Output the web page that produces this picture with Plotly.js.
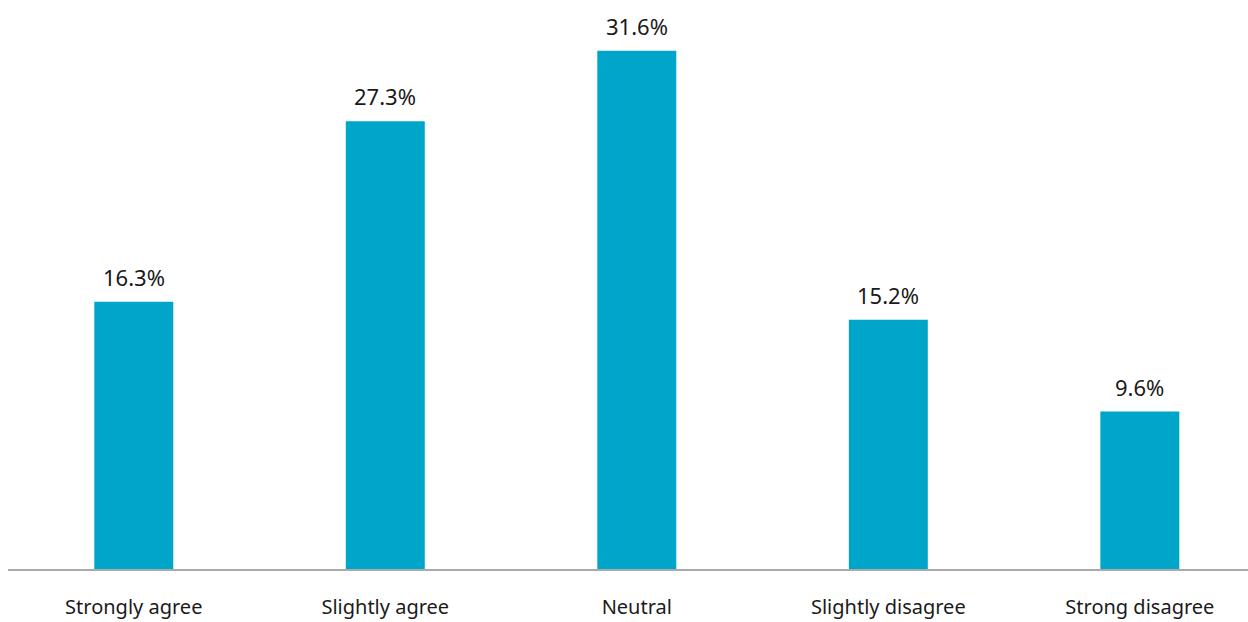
<!DOCTYPE html>
<html>
<head>
<meta charset="utf-8">
<script src="https://cdn.plot.ly/plotly-3.0.1.min.js"></script>
<style>
  html, body { margin: 0; padding: 0; background: #ffffff; }
  #chart { width: 1248px; height: 622px; }
</style>
</head>
<body>
<div id="chart"></div>
<script>
// Survey responses by level of agreement
const categories = ["Strongly agree", "Slightly agree", "Neutral", "Slightly disagree", "Strong disagree"];
const shares = [16.3, 27.3, 31.6, 15.2, 9.6];
const shareLabels = ["16.3%", "27.3%", "31.6%", "15.2%", "9.6%"];

const FONT = "'Noto Sans', 'Open Sans', sans-serif";

const bars = {
  type: "bar",
  x: categories,
  y: shares,
  width: 0.314,
  marker: { color: "#00a6ca" },
  hoverinfo: "skip"
};

// Value labels sit a little above each bar
const valueLabels = categories.map((c, i) => ({
  x: c,
  y: shares[i],
  xref: "x",
  yref: "y",
  text: shareLabels[i],
  showarrow: false,
  yanchor: "bottom",
  yshift: 8,
  font: { family: FONT, size: 22, color: "#1a1a1a" }
}));

const layout = {
  width: 1248,
  height: 622,
  margin: { l: 8, r: 0, t: 0, b: 53 },
  paper_bgcolor: "#ffffff",
  plot_bgcolor: "#ffffff",
  showlegend: false,
  font: { family: FONT, color: "#1a1a1a" },
  annotations: valueLabels,
  xaxis: {
    type: "category",
    range: [-0.5, 4.43],
    showgrid: false,
    zeroline: false,
    showline: true,
    linecolor: "#aaaaaa",
    linewidth: 2,
    ticks: "",
    ticklabelstandoff: 19,
    tickfont: { family: FONT, size: 20, color: "#1a1a1a" },
    fixedrange: true
  },
  yaxis: {
    range: [0, 34.7],
    visible: false,
    showgrid: false,
    zeroline: false,
    fixedrange: true
  }
};

Plotly.newPlot("chart", [bars], layout, { displayModeBar: false, staticPlot: true });
</script>
</body>
</html>
